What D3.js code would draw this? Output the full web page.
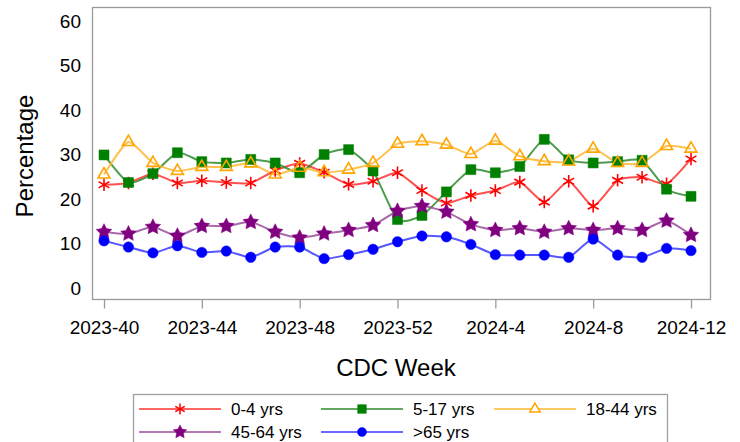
<!DOCTYPE html>
<html>
<head>
<meta charset="utf-8">
<script src="https://cdn.jsdelivr.net/npm/d3@7"></script>
<style>
  body { margin: 0; background: #fff; }
  svg { display: block; font-family: "Liberation Sans", Arial, sans-serif; }
</style>
</head>
<body>
<div id="chart"></div>
<script>
// CDC week categories
const weeks = ["2023-40", "2023-41", "2023-42", "2023-43", "2023-44", "2023-45", "2023-46",
	"2023-47", "2023-48", "2023-49", "2023-50", "2023-51", "2023-52",
	"2024-1", "2024-2", "2024-3", "2024-4", "2024-5", "2024-6", "2024-7", "2024-8",
	"2024-9", "2024-10", "2024-11", "2024-12"];
const weekTicks = ["2023-40", "2023-44", "2023-48", "2023-52", "2024-4", "2024-8", "2024-12"];
const yTicks = [0, 10, 20, 30, 40, 50, 60];

const age0_4 = [23.2, 23.6, 25.7, 23.6, 24.1, 23.7, 23.6, 26.4, 28.0, 26.0, 23.3, 24.0, 25.9, 21.9, 19.1, 20.8, 21.9, 23.8, 19.3, 24.0, 18.4, 24.2, 24.9, 23.4, 29.0];
const age5_17 = [29.9, 23.7, 25.7, 30.4, 28.4, 28.1, 28.9, 28.1, 25.9, 30.0, 31.1, 26.3, 15.4, 16.3, 21.6, 26.6, 25.9, 27.3, 33.4, 28.8, 28.1, 28.4, 28.7, 22.2, 20.6];
const age18_44 = [25.5, 32.8, 28.1, 26.3, 27.2, 27.2, 28.0, 25.5, 27.0, 26.0, 26.6, 28.1, 32.4, 33.0, 32.2, 30.1, 33.1, 29.6, 28.5, 28.4, 31.3, 28.1, 28.1, 31.9, 31.3];
const age45_64 = [12.6, 12.2, 13.7, 11.7, 13.9, 13.9, 14.8, 12.6, 11.3, 12.2, 13.0, 14.1, 17.3, 18.4, 17.1, 14.3, 13.0, 13.4, 12.6, 13.4, 13.0, 13.4, 13.0, 15.1, 11.9];
const age65 = [10.6, 9.2, 7.9, 9.5, 8.0, 8.3, 6.9, 9.2, 9.2, 6.6, 7.5, 8.7, 10.4, 11.7, 11.5, 9.8, 7.5, 7.4, 7.4, 6.9, 11.0, 7.4, 6.9, 8.9, 8.4];

const seriesNames = ["0-4 yrs", "5-17 yrs", "18-44 yrs", "45-64 yrs", ">65 yrs"];

// 比 d3.symbolStar 更胖一点的五角星
const fatStar = {
	draw(context, size) {
		const r = Math.sqrt(size) * 0.75, r2 = r * 0.5;
		for (let i = 0; i < 10; i++) {
			const a = -Math.PI / 2 + i * Math.PI / 5;
			const rr = i % 2 ? r2 : r;
			if (i === 0) context.moveTo(rr * Math.cos(a), rr * Math.sin(a));
			else context.lineTo(rr * Math.cos(a), rr * Math.sin(a));
		}
		context.closePath();
	}
};

const series = [
	{ name: seriesNames[0], values: age0_4, color: "#ff0000", line: "#ff3333", symbol: d3.symbolAsterisk, size: 110, fill: "none" },
	{ name: seriesNames[1], values: age5_17, color: "#008000", line: "#2e8b2e", symbol: d3.symbolSquare, size: 100, fill: "#008000" },
	{ name: seriesNames[2], values: age18_44, color: "#ffa500", line: "#ffb733", symbol: d3.symbolTriangle, size: 62, fill: "none" },
	{ name: seriesNames[3], values: age45_64, color: "#800080", line: "#9a4d9a", symbol: fatStar, size: 120, fill: "#800080" },
	{ name: seriesNames[4], values: age65, color: "#0000ff", line: "#3a3aff", symbol: d3.symbolCircle, size: 85, fill: "#0000ff" }
];

const width = 740, height = 442;
const frame = { left: 92, top: 7, right: 710, bottom: 299 };

const svg = d3.select("#chart").append("svg")
	.attr("width", width)
	.attr("height", height);

const x = d3.scalePoint()
	.domain(weeks)
	.range([104, 691]);

const y = d3.scaleLinear()
	.domain([0, 60])
	.range([288, 21]);

// frame
svg.append("rect")
	.attr("x", frame.left + 0.5)
	.attr("y", frame.top + 0.5)
	.attr("width", frame.right - frame.left)
	.attr("height", frame.bottom - frame.top)
	.attr("fill", "none")
	.attr("stroke", "#9a9a9a")
	.attr("stroke-width", 1.3);

// x axis
const xAxis = svg.append("g")
	.attr("transform", `translate(0,${frame.bottom + 0.5})`)
	.call(d3.axisBottom(x).tickValues(weekTicks).tickSize(9).tickPadding(12));
xAxis.select(".domain").remove();
xAxis.selectAll(".tick line").attr("stroke", "#9a9a9a").attr("stroke-width", 1.3);
xAxis.selectAll(".tick text").attr("font-size", 19).attr("fill", "#000")
	.attr("font-family", "Liberation Sans, Arial, sans-serif");

// y axis (labels only)
const yAxis = svg.append("g")
	.attr("transform", `translate(${frame.left},0)`)
	.call(d3.axisLeft(y).tickValues(yTicks).tickSize(0).tickPadding(11));
yAxis.select(".domain").remove();
yAxis.selectAll(".tick text").attr("font-size", 19).attr("fill", "#000")
	.attr("font-family", "Liberation Sans, Arial, sans-serif");

// axis titles
svg.append("text")
	.attr("x", 396)
	.attr("y", 376)
	.attr("text-anchor", "middle")
	.attr("font-size", 24)
	.text("CDC Week");

svg.append("text")
	.attr("transform", "translate(33,156) rotate(-90)")
	.attr("text-anchor", "middle")
	.attr("font-size", 24)
	.text("Percentage");

// lines (slightly smoothed)
const line = d3.line()
	.x((d, i) => x(weeks[i]))
	.y(d => y(d))
	.curve(d3.curveCardinal.tension(0.4));

series.forEach(s => {
	svg.append("path")
		.datum(s.values)
		.attr("fill", "none")
		.attr("stroke", s.line)
		.attr("stroke-width", 2)
		.attr("stroke-opacity", 0.85)
		.attr("d", line);
});

// markers
series.forEach(s => {
	svg.append("g")
		.selectAll("path")
		.data(s.values)
		.join("path")
		.attr("transform", (d, i) => `translate(${x(weeks[i])},${y(d)})`)
		.attr("d", d3.symbol().type(s.symbol).size(s.size))
		.attr("fill", s.fill)
		.attr("stroke", s.color)
		.attr("stroke-width", s.fill === "none" ? 1.6 : 0.5);
});

// legend
const legend = svg.append("g");
legend.append("rect")
	.attr("x", 133.5)
	.attr("y", 394.5)
	.attr("width", 534)
	.attr("height", 52)
	.attr("fill", "#fff")
	.attr("stroke", "#a0a0a0")
	.attr("stroke-width", 1.3);

const legendPos = [
	{ x: 139, y: 409 }, { x: 321, y: 409 }, { x: 494, y: 409 },
	{ x: 139, y: 432 }, { x: 321, y: 432 }
];

series.forEach((s, i) => {
	const p = legendPos[i];
	const g = legend.append("g").attr("transform", `translate(${p.x},${p.y})`);
	g.append("line")
		.attr("x1", 0).attr("x2", 82)
		.attr("stroke", s.line)
		.attr("stroke-width", 1.6);
	g.append("path")
		.attr("transform", "translate(41,0)")
		.attr("d", d3.symbol().type(s.symbol).size(s.size * 0.75))
		.attr("fill", s.fill === "none" ? "#fff" : s.fill)
		.attr("stroke", s.color)
		.attr("stroke-width", s.fill === "none" ? 1.5 : 0.5);
	g.append("text")
		.attr("x", 92)
		.attr("y", 6)
		.attr("font-size", 17)
		.text(s.name);
});
</script>
</body>
</html>
